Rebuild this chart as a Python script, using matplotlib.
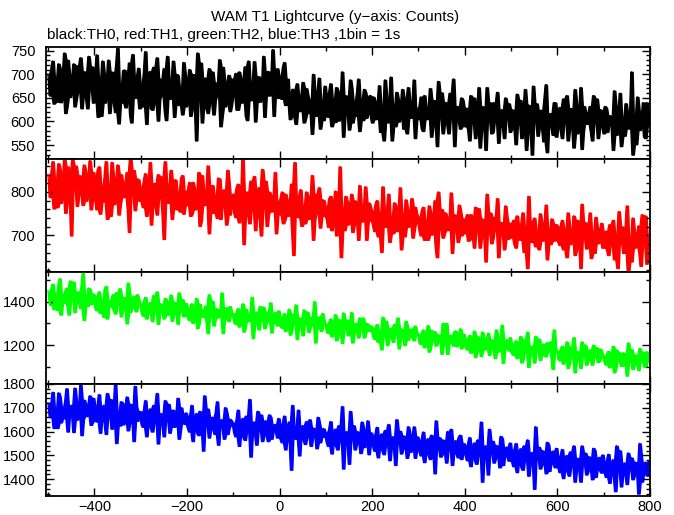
import numpy as np
import matplotlib
matplotlib.use("Agg")
import matplotlib.pyplot as plt
from matplotlib.ticker import MultipleLocator
from numpy.lib.stride_tricks import sliding_window_view

plt.rcParams['font.family'] = ['Liberation Sans', 'DejaVu Sans']

# bin times (s): samples on the 5 s grid (a) and halfway between them (b)
time_a = np.arange(-500, 801, 5)
time_b = np.arange(-497.5, 800, 5)

th0_a = [700, 655, 728, 690, 642, 712, 668, 745, 633, 701, 676, 722, 648, 690, 735, 660, 705, 628, 684, 716,
         650, 741, 688, 612, 702, 667, 730, 645, 698, 620, 755, 676, 640, 709, 662, 724, 598, 690, 655, 713,
         680, 632, 748, 661, 706, 625, 690, 735, 648, 675, 712, 603, 684, 656, 728, 641, 697, 669, 615, 701,
         655, 710, 628, 686, 560, 671, 724, 640, 692, 618, 679, 705, 646, 663, 731, 612, 688, 650, 698, 634,
         668, 702, 625, 690, 647, 716, 603, 681, 658, 727, 640, 695, 672, 738, 655, 706, 688, 752, 664, 712,
         695, 648, 725, 672, 640, 612, 668, 595, 650, 626, 683, 607, 655, 632, 574, 660, 618, 692, 641, 603,
         652, 610, 680, 628, 599, 665, 640, 705, 617, 648, 583, 671, 630, 612, 690, 645, 603, 661, 625, 655,
         598, 642, 610, 676, 625, 560, 650, 612, 694, 631, 590, 648, 620, 668, 603, 575, 640, 615, 688, 628,
         605, 652, 580, 628, 610, 670, 592, 637, 548, 620, 661, 598, 640, 575, 624, 690, 606, 632, 585, 645,
         590, 628, 560, 615, 650, 598, 672, 583, 620, 540, 605, 640, 578, 612, 662, 595, 625, 565, 608, 638,
         585, 620, 552, 610, 645, 592, 668, 575, 615, 530, 603, 638, 590, 624, 558, 678, 600, 617, 572, 640,
         598, 630, 565, 612, 655, 586, 622, 545, 640, 600, 672, 580, 615, 595, 632, 560, 610, 648, 588, 620,
         575, 628, 596, 612, 540, 635, 590, 660, 602, 570, 618, 585, 705, 597, 552, 625, 608, 640, 565, 615,
         598]
th0_b = [655, 712, 638, 665, 722, 641, 700, 618, 730, 652, 690, 632, 718, 664, 628, 705, 650, 738, 670, 640,
         698, 610, 652, 728, 640, 685, 618, 705, 642, 720, 596, 660, 708, 630, 688, 615, 742, 650, 695, 628,
         650, 705, 595, 680, 628, 715, 640, 602, 690, 655, 622, 738, 648, 685, 610, 700, 635, 662, 725, 632,
         675, 612, 700, 635, 745, 650, 598, 690, 628, 712, 640, 615, 682, 655, 590, 715, 632, 678, 622, 690,
         655, 625, 705, 640, 690, 612, 728, 645, 678, 600, 695, 642, 668, 610, 702, 655, 672, 612, 700, 650,
         660, 715, 635, 690, 605, 668, 610, 680, 622, 655, 598, 670, 618, 645, 700, 612, 662, 585, 632, 675,
         615, 662, 590, 645, 672, 602, 628, 568, 655, 620, 688, 598, 642, 660, 580, 622, 668, 608, 648, 612,
         652, 605, 640, 578, 630, 688, 598, 640, 560, 618, 662, 600, 632, 585, 648, 672, 608, 638, 565, 620,
         632, 585, 655, 605, 628, 568, 645, 598, 685, 612, 575, 640, 595, 660, 610, 548, 630, 602, 650, 590,
         628, 585, 655, 600, 565, 620, 545, 632, 595, 672, 610, 575, 640, 602, 555, 622, 590, 650, 608, 578,
         625, 588, 658, 598, 565, 618, 540, 635, 592, 675, 608, 570, 622, 585, 650, 535, 612, 590, 640, 568,
         618, 582, 648, 600, 560, 628, 590, 668, 575, 612, 542, 632, 598, 620, 580, 655, 602, 565, 625, 592,
         632, 578, 612, 590, 665, 572, 618, 548, 605, 638, 588, 622, 530, 610, 652, 582, 598, 568, 640, 590]

th1_a = [840, 790, 870, 805, 765, 852, 820, 878, 776, 835, 700, 812, 860, 795, 830, 770, 848, 808, 872, 785,
         825, 760, 858, 800, 778, 870, 812, 745, 836, 795, 862, 772, 820, 790, 845, 708, 815, 850, 782, 828,
         810, 765, 842, 790, 868, 775, 820, 748, 800, 835, 692, 812, 782, 850, 770, 828, 795, 755, 838, 802,
         770, 822, 750, 808, 785, 845, 735, 798, 772, 860, 760, 815, 790, 740, 830, 778, 805, 725, 820, 788,
         795, 742, 818, 770, 878, 752, 800, 728, 785, 836, 760, 810, 700, 780, 825, 750, 792, 765, 845, 772,
         748, 800, 735, 782, 760, 818, 655, 770, 742, 805, 765, 728, 790, 752, 838, 738, 775, 810, 745, 780,
         765, 720, 790, 745, 802, 735, 858, 758, 712, 778, 740, 795, 725, 762, 690, 770, 748, 812, 730, 768,
         755, 710, 780, 735, 662, 752, 720, 795, 740, 705, 768, 728, 810, 745, 698, 760, 732, 785, 715, 750,
         742, 700, 765, 725, 690, 752, 715, 780, 650, 735, 760, 705, 742, 722, 798, 710, 738, 685, 755, 720,
         705, 748, 690, 730, 672, 720, 762, 700, 735, 640, 725, 752, 695, 715, 785, 705, 728, 668, 742, 710,
         695, 735, 672, 718, 690, 752, 700, 625, 722, 685, 740, 710, 668, 730, 698, 770, 705, 680, 728, 692,
         715, 678, 735, 690, 650, 720, 700, 745, 668, 712, 625, 705, 730, 685, 752, 695, 660, 718, 690, 728,
         672, 710, 655, 700, 735, 680, 625, 695, 720, 665, 768, 690, 640, 708, 678, 722, 630, 698, 745, 682,
         690]
th1_b = [788, 842, 762, 828, 865, 775, 808, 752, 858, 792, 875, 818, 768, 838, 798, 862, 780, 825, 760, 845,
         782, 852, 750, 812, 835, 738, 800, 868, 772, 818, 748, 840, 788, 822, 762, 880, 795, 758, 830, 780,
         778, 828, 745, 802, 725, 818, 768, 840, 790, 752, 870, 775, 810, 738, 822, 760, 798, 832, 750, 786,
         805, 745, 822, 760, 790, 722, 838, 770, 800, 705, 812, 752, 778, 832, 738, 795, 762, 850, 748, 780,
         752, 810, 730, 782, 680, 798, 748, 825, 762, 712, 792, 738, 852, 768, 722, 800, 755, 788, 705, 778,
         785, 728, 795, 745, 772, 710, 868, 758, 790, 722, 762, 800, 738, 778, 690, 795, 752, 718, 782, 745,
         738, 785, 712, 760, 700, 768, 650, 748, 790, 725, 765, 708, 780, 742, 815, 732, 758, 690, 775, 735,
         722, 772, 698, 748, 812, 728, 760, 685, 740, 775, 710, 752, 668, 735, 782, 720, 748, 695, 765, 730,
         712, 758, 690, 732, 768, 702, 745, 675, 800, 718, 695, 752, 712, 735, 660, 748, 715, 770, 700, 738,
         732, 688, 748, 705, 765, 712, 672, 738, 700, 795, 710, 682, 742, 722, 650, 730, 708, 768, 692, 728,
         722, 680, 745, 698, 728, 662, 715, 790, 692, 732, 675, 705, 750, 688, 718, 645, 712, 738, 688, 725,
         685, 722, 668, 712, 752, 680, 700, 655, 735, 690, 772, 695, 670, 715, 648, 705, 742, 682, 710, 672,
         708, 668, 725, 680, 645, 700, 755, 685, 660, 715, 612, 690, 740, 672, 702, 658, 748, 682, 635, 700]

th2_a = [1450, 1385, 1480, 1410, 1362, 1505, 1430, 1395, 1462, 1340, 1425, 1490, 1400, 1445, 1370, 1530, 1415, 1380, 1455, 1402,
         1420, 1360, 1445, 1390, 1330, 1470, 1405, 1375, 1432, 1345, 1398, 1460, 1368, 1415, 1300, 1440, 1385, 1425, 1355, 1408,
         1390, 1335, 1420, 1362, 1395, 1310, 1380, 1445, 1350, 1372, 1322, 1405, 1368, 1430, 1340, 1385, 1298, 1362, 1410, 1345,
         1368, 1315, 1390, 1340, 1415, 1300, 1355, 1330, 1380, 1255, 1350, 1402, 1320, 1365, 1338, 1440, 1328, 1372, 1310, 1350,
         1345, 1298, 1368, 1320, 1390, 1285, 1335, 1310, 1420, 1305, 1352, 1272, 1330, 1375, 1300, 1340, 1395, 1315, 1350, 1290,
         1322, 1280, 1345, 1300, 1365, 1268, 1310, 1385, 1290, 1325, 1245, 1308, 1352, 1282, 1318, 1400, 1295, 1330, 1265, 1312,
         1298, 1255, 1320, 1275, 1340, 1240, 1290, 1210, 1282, 1315, 1262, 1350, 1270, 1300, 1235, 1288, 1325, 1258, 1295, 1272,
         1270, 1228, 1295, 1250, 1180, 1262, 1310, 1240, 1278, 1215, 1255, 1325, 1235, 1268, 1200, 1285, 1245, 1275, 1222, 1258,
         1248, 1205, 1270, 1225, 1290, 1190, 1238, 1262, 1212, 1235, 1160, 1252, 1300, 1218, 1245, 1198, 1265, 1228, 1275, 1210,
         1222, 1180, 1245, 1198, 1265, 1170, 1212, 1150, 1230, 1195, 1255, 1185, 1218, 1140, 1240, 1202, 1292, 1190, 1225, 1175,
         1198, 1155, 1220, 1172, 1240, 1135, 1188, 1260, 1165, 1195, 1120, 1182, 1228, 1160, 1205, 1148, 1175, 1215, 1090, 1185,
         1172, 1130, 1195, 1150, 1215, 1118, 1162, 1235, 1140, 1170, 1095, 1158, 1200, 1135, 1178, 1110, 1150, 1188, 1128, 1165,
         1150, 1110, 1172, 1128, 1195, 1092, 1140, 1165, 1105, 1145, 1060, 1138, 1180, 1115, 1152, 1085, 1130, 1168, 1100, 1140,
         1125]
th2_b = [1392, 1458, 1365, 1428, 1475, 1340, 1412, 1448, 1380, 1495, 1418, 1352, 1438, 1398, 1468, 1315, 1425, 1462, 1388, 1435,
         1372, 1428, 1348, 1400, 1455, 1322, 1385, 1412, 1360, 1442, 1390, 1332, 1420, 1378, 1485, 1352, 1402, 1368, 1432, 1385,
         1352, 1402, 1322, 1378, 1345, 1428, 1362, 1298, 1390, 1365, 1415, 1338, 1375, 1312, 1398, 1358, 1440, 1380, 1332, 1392,
         1325, 1372, 1302, 1350, 1278, 1388, 1338, 1360, 1312, 1432, 1342, 1290, 1368, 1328, 1352, 1255, 1360, 1320, 1378, 1340,
         1305, 1350, 1285, 1330, 1262, 1365, 1318, 1342, 1232, 1348, 1300, 1378, 1322, 1278, 1352, 1312, 1258, 1335, 1302, 1358,
         1290, 1330, 1265, 1312, 1248, 1342, 1300, 1228, 1322, 1285, 1362, 1302, 1260, 1328, 1292, 1212, 1318, 1280, 1345, 1298,
         1262, 1305, 1240, 1285, 1222, 1318, 1270, 1348, 1278, 1245, 1298, 1212, 1290, 1260, 1325, 1272, 1235, 1300, 1265, 1288,
         1240, 1282, 1215, 1262, 1328, 1248, 1200, 1270, 1232, 1295, 1255, 1185, 1275, 1242, 1310, 1225, 1265, 1235, 1288, 1252,
         1212, 1255, 1190, 1235, 1170, 1268, 1222, 1198, 1248, 1225, 1300, 1208, 1160, 1242, 1215, 1262, 1195, 1232, 1185, 1250,
         1188, 1230, 1165, 1212, 1145, 1240, 1198, 1260, 1180, 1215, 1155, 1225, 1192, 1270, 1170, 1208, 1118, 1220, 1185, 1235,
         1162, 1205, 1140, 1188, 1120, 1225, 1172, 1100, 1195, 1165, 1240, 1178, 1132, 1200, 1155, 1212, 1185, 1145, 1270, 1175,
         1138, 1180, 1115, 1160, 1095, 1192, 1148, 1075, 1170, 1140, 1215, 1152, 1110, 1175, 1132, 1200, 1160, 1122, 1182, 1145,
         1120, 1160, 1098, 1142, 1075, 1178, 1130, 1105, 1165, 1125, 1210, 1132, 1090, 1155, 1118, 1185, 1140, 1102, 1170, 1128]

th3_a = [1720, 1660, 1765, 1690, 1615, 1745, 1700, 1655, 1780, 1675, 1710, 1598, 1730, 1685, 1795, 1650, 1715, 1670, 1750, 1640,
         1700, 1642, 1755, 1668, 1710, 1590, 1685, 1735, 1650, 1798, 1672, 1625, 1720, 1660, 1745, 1635, 1690, 1560, 1705, 1665,
         1680, 1620, 1730, 1650, 1695, 1600, 1668, 1760, 1635, 1675, 1580, 1650, 1715, 1625, 1690, 1645, 1740, 1610, 1665, 1632,
         1655, 1600, 1710, 1630, 1675, 1585, 1648, 1520, 1640, 1695, 1612, 1660, 1590, 1725, 1628, 1650, 1570, 1680, 1618, 1645,
         1635, 1580, 1690, 1610, 1655, 1565, 1628, 1735, 1598, 1640, 1545, 1620, 1670, 1590, 1645, 1560, 1660, 1605, 1630, 1575,
         1620, 1555, 1665, 1590, 1640, 1440, 1605, 1570, 1690, 1585, 1625, 1548, 1610, 1650, 1575, 1598, 1530, 1635, 1580, 1612,
         1595, 1540, 1642, 1568, 1610, 1525, 1585, 1705, 1560, 1600, 1465, 1578, 1625, 1550, 1590, 1510, 1615, 1565, 1645, 1555,
         1572, 1520, 1618, 1548, 1590, 1505, 1565, 1630, 1535, 1578, 1460, 1555, 1602, 1528, 1568, 1490, 1595, 1545, 1620, 1532,
         1552, 1500, 1598, 1528, 1570, 1485, 1545, 1425, 1530, 1575, 1505, 1555, 1470, 1540, 1610, 1518, 1562, 1492, 1585, 1520,
         1530, 1480, 1575, 1510, 1552, 1465, 1525, 1640, 1498, 1540, 1420, 1512, 1560, 1488, 1528, 1450, 1570, 1505, 1535, 1478,
         1505, 1455, 1550, 1485, 1528, 1440, 1498, 1565, 1470, 1512, 1360, 1490, 1535, 1460, 1502, 1425, 1545, 1478, 1518, 1450,
         1480, 1430, 1525, 1460, 1500, 1415, 1472, 1540, 1445, 1488, 1390, 1465, 1510, 1435, 1478, 1400, 1520, 1452, 1492, 1428,
         1460, 1410, 1505, 1440, 1482, 1350, 1452, 1520, 1425, 1468, 1380, 1445, 1490, 1418, 1458, 1340, 1500, 1432, 1472, 1415,
         1445]
th3_b = [1662, 1718, 1615, 1692, 1762, 1638, 1682, 1728, 1600, 1705, 1668, 1782, 1650, 1698, 1585, 1732, 1665, 1712, 1628, 1740,
         1648, 1710, 1595, 1682, 1640, 1760, 1665, 1612, 1700, 1552, 1680, 1725, 1630, 1692, 1605, 1715, 1660, 1790, 1645, 1685,
         1630, 1690, 1580, 1662, 1615, 1710, 1642, 1550, 1675, 1635, 1730, 1660, 1595, 1685, 1620, 1665, 1570, 1700, 1645, 1678,
         1615, 1670, 1560, 1640, 1595, 1685, 1622, 1750, 1630, 1575, 1658, 1610, 1680, 1545, 1642, 1620, 1700, 1590, 1652, 1625,
         1595, 1650, 1540, 1620, 1575, 1665, 1602, 1495, 1632, 1590, 1685, 1610, 1560, 1640, 1585, 1670, 1570, 1625, 1600, 1655,
         1570, 1635, 1525, 1600, 1550, 1710, 1585, 1620, 1500, 1605, 1565, 1642, 1580, 1540, 1615, 1592, 1660, 1555, 1610, 1578,
         1555, 1610, 1508, 1582, 1540, 1625, 1565, 1445, 1590, 1550, 1685, 1572, 1525, 1600, 1560, 1640, 1535, 1585, 1505, 1595,
         1538, 1590, 1492, 1562, 1520, 1605, 1545, 1480, 1575, 1532, 1650, 1555, 1508, 1582, 1542, 1620, 1515, 1565, 1490, 1578,
         1518, 1570, 1472, 1542, 1500, 1585, 1525, 1645, 1540, 1495, 1565, 1515, 1600, 1530, 1460, 1552, 1508, 1578, 1485, 1550,
         1500, 1550, 1455, 1520, 1478, 1565, 1505, 1390, 1532, 1490, 1610, 1518, 1470, 1542, 1502, 1580, 1460, 1525, 1495, 1552,
         1475, 1525, 1430, 1495, 1452, 1540, 1482, 1415, 1510, 1468, 1620, 1490, 1445, 1520, 1478, 1555, 1435, 1502, 1462, 1530,
         1450, 1500, 1405, 1470, 1430, 1515, 1458, 1390, 1485, 1442, 1540, 1465, 1420, 1495, 1452, 1530, 1410, 1478, 1438, 1502,
         1430, 1480, 1385, 1450, 1408, 1540, 1438, 1370, 1465, 1422, 1510, 1445, 1400, 1472, 1432, 1550, 1390, 1458, 1418, 1475]

series = [(th0_a, th0_b), (th1_a, th1_b), (th2_a, th2_b), (th3_a, th3_b)]
colors = ['#000000', '#ff0000', '#00ff00', '#0000ff']
ylims = [(520, 757), (617, 875), (1022, 1538), (1331, 1800)]
ymajor = [50, 100, 200, 100]
yminor = [10, 20, 100, 20]
xticks = [-400, -200, 0, 200, 400, 600, 800]

# merge the two sample sets into one time-ordered curve
t_all = np.concatenate([time_a, time_b])
order = np.argsort(t_all)
t_sorted = t_all[order]

fig = plt.figure(figsize=(6.74, 5.15), dpi=100)
left, right = 45.7 / 674, 650 / 674
bounds = [47.3, 159.3, 271.5, 383.8, 495.7]
for i in range(4):
    top_px, bot_px = bounds[i], bounds[i + 1]
    ax = fig.add_axes([left, 1 - bot_px / 515, right - left, (bot_px - top_px) / 515])
    y_sorted = np.concatenate([series[i][0], series[i][1]])[order]
    # dense core of the 1 s curve: extent of the curve over neighbouring samples
    win = sliding_window_view(y_sorted, 3)
    ax.fill_between(t_sorted[1:-1], win.min(axis=1), win.max(axis=1),
                    color=colors[i], lw=1.0, edgecolor=colors[i])
    ax.plot(t_sorted, y_sorted, color=colors[i], lw=1.0)
    ax.set_xlim(-505, 800)
    ax.set_ylim(*ylims[i])
    ax.yaxis.set_major_locator(MultipleLocator(ymajor[i]))
    ax.yaxis.set_minor_locator(MultipleLocator(yminor[i]))
    ax.set_xticks(xticks)
    ax.xaxis.set_minor_locator(MultipleLocator(100))
    ax.tick_params(which='both', direction='in', top=True, right=True, width=1.0,
                   labelsize=10.5)
    ax.tick_params(axis='y', pad=7.5)
    ax.tick_params(axis='x', pad=3)
    ax.tick_params(which='major', length=6)
    ax.tick_params(which='minor', length=3)
    if i < 3:
        ax.tick_params(labelbottom=False)
    for sp in ax.spines.values():
        sp.set_linewidth(1.3)
        sp.set_zorder(3)

fig.text(335 / 674, 1 - 17 / 515, 'WAM T1 Lightcurve (y\u2212axis: Counts)',
         ha='center', va='center', fontsize=11)
fig.text(47 / 674, 1 - 35 / 515, 'black:TH0, red:TH1, green:TH2, blue:TH3 ,1bin = 1s',
         ha='left', va='center', fontsize=11)

fig.savefig('out.png', dpi=100)
